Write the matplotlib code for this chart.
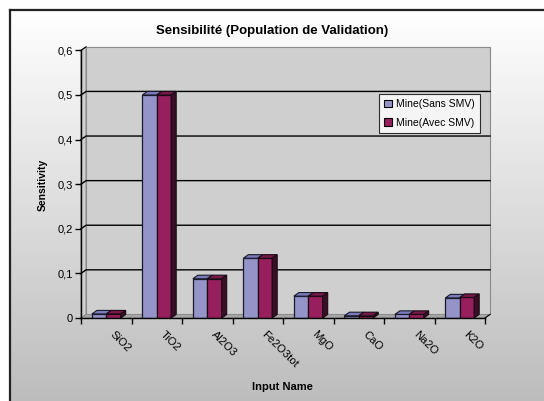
import numpy as np
import matplotlib
matplotlib.use("Agg")
import matplotlib.pyplot as plt
from matplotlib.patches import Polygon, Rectangle, Patch
from matplotlib.lines import Line2D

plt.rcParams['font.family'] = ['Liberation Sans', 'DejaVu Sans']

inputs = ["SiO2", "TiO2", "Al2O3", "Fe2O3tot", "MgO", "CaO", "Na2O", "K2O"]
sans_smv = [0.009, 0.500, 0.088, 0.134, 0.049, 0.005, 0.008, 0.045]
avec_smv = [0.009, 0.500, 0.088, 0.134, 0.049, 0.005, 0.008, 0.046]
yticks = [0, 0.1, 0.2, 0.3, 0.4, 0.5, 0.6]
ytick_labels = ["0", "0,1", "0,2", "0,3", "0,4", "0,5", "0,6"]

c_sans = "#9494c8"
c_sans_top = "#7a7abc"
c_avec = "#971f5d"
c_avec_top = "#771848"
c_avec_side = "#3a0f26"
wall = "#cfcfcf"
floor = "#a6a6a6"

W, H = 544, 401
fig = plt.figure(figsize=(W / 100, H / 100), dpi=100)

# gradient background inside the chart frame
bg = fig.add_axes([10 / W, 0, 1 - 10 / W, 1 - 10 / H])
grad = np.linspace(1.0, 0.74, 256).reshape(-1, 1)
bg.imshow(np.dstack([grad, grad, grad]), aspect="auto", extent=[0, 1, 0, 1])
bg.set_axis_off()
fig.add_artist(Line2D([10 / W, 10 / W], [0, 1 - 10 / H], color="#222222", lw=1.6))
fig.add_artist(Line2D([10 / W, 1], [1 - 10 / H, 1 - 10 / H], color="#222222", lw=1.6))

ax = fig.add_axes([81 / W, (H - 318) / H, (485 - 81) / W, (318 - 50.4) / H])
ax.set_facecolor("none")
x0, x1 = -0.5, len(inputs) - 0.5
ymax = 0.6
dx, dy = 0.1, 0.008
ax.set_xlim(x0, x1)
ax.set_ylim(0, ymax)

# walls and floor
ax.add_patch(Rectangle((x0 + dx, dy), x1 - x0, ymax, facecolor=wall,
                       edgecolor="#8a8a8a", lw=0.8, clip_on=False, zorder=0))
ax.add_patch(Polygon([(x0, 0), (x0 + dx, dy), (x0 + dx, ymax + dy), (x0, ymax)],
                     facecolor=wall, edgecolor="#8a8a8a", lw=0.8, clip_on=False, zorder=0))
ax.add_patch(Polygon([(x0, 0), (x1, 0), (x1 + dx, dy), (x0 + dx, dy)],
                     facecolor=floor, edgecolor="#8a8a8a", lw=0.6, clip_on=False, zorder=0.5))

# gridlines on back wall and side wall
for v in yticks[1:-1]:
    ax.plot([x0, x0 + dx, x1 + dx], [v, v + dy, v + dy], color="black", lw=1.0,
            clip_on=False, zorder=0.6)
ax.plot([x0, x0 + dx], [ymax, ymax + dy], color="black", lw=0.8, clip_on=False, zorder=0.6)
ax.plot([x1, x1 + dx], [0, dy], color="black", lw=0.8, clip_on=False, zorder=0.6)

x = np.arange(len(inputs))
w = 0.285
ax.bar(x - w / 2, sans_smv, width=w, color=c_sans, edgecolor="#1a1a2a", lw=0.9, zorder=2)
ax.bar(x + w / 2, avec_smv, width=w, color=c_avec, edgecolor="#1a0a14", lw=0.9, zorder=3)

for xi, v in zip(x, sans_smv):
    l, r = xi - w, xi
    ax.add_patch(Polygon([(l, v), (r, v), (r + dx, v + dy), (l + dx, v + dy)],
                         facecolor=c_sans_top, edgecolor="#1a1a2a", lw=0.8, zorder=2.5))
for xi, v in zip(x, avec_smv):
    l, r = xi, xi + w
    ax.add_patch(Polygon([(l, v), (r, v), (r + dx, v + dy), (l + dx, v + dy)],
                         facecolor=c_avec_top, edgecolor="#1a0a14", lw=0.8, zorder=3.5))
    ax.add_patch(Polygon([(r, 0), (r, v), (r + dx, v + dy), (r + dx, dy)],
                         facecolor=c_avec_side, edgecolor="#1a0a14", lw=0.8, zorder=3.5))

for s in ["top", "right"]:
    ax.spines[s].set_visible(False)
for s in ["left", "bottom"]:
    ax.spines[s].set_color("black")
    ax.spines[s].set_linewidth(1.0)
    ax.spines[s].set_zorder(5)

ax.set_yticks(yticks, ytick_labels, fontsize=8)
ax.tick_params(axis="y", direction="out", length=4, width=1, pad=2)
ax.set_xticks(x + 0.18, inputs, fontsize=8, rotation=-45, ha="left",
              rotation_mode="anchor")
ax.tick_params(axis="x", length=0, pad=8)
ax.set_xticks(np.arange(x0, x1 + 0.5, 1), minor=True)
ax.tick_params(axis="x", which="minor", direction="out", length=4, width=1)

fig.text(272 / W, 1 - 31 / H, "Sensibilité (Population de Validation)",
         ha="center", va="center", fontsize=9.5, fontweight="bold")
fig.text(43 / W, 1 - 185 / H, "Sensitivity", ha="center", va="center",
         rotation=90, fontsize=7.5, fontweight="bold")
fig.text(282 / W, 1 - 387 / H, "Input Name", ha="center", va="center",
         fontsize=8, fontweight="bold")

handles = [Patch(facecolor=c_sans, edgecolor="black", lw=0.8),
           Patch(facecolor=c_avec, edgecolor="black", lw=0.8)]
leg = fig.legend(handles, ["Mine(Sans SMV)", "Mine(Avec SMV)"],
                 loc="upper left", bbox_to_anchor=(379 / W, 1 - 94 / H),
                 fontsize=7.5, frameon=True, fancybox=False, edgecolor="black",
                 handlelength=0.7, handleheight=0.7, handletextpad=0.4,
                 borderpad=0.5, labelspacing=0.8, borderaxespad=0)
leg.get_frame().set_linewidth(0.8)

fig.savefig("out.png", dpi=100)
